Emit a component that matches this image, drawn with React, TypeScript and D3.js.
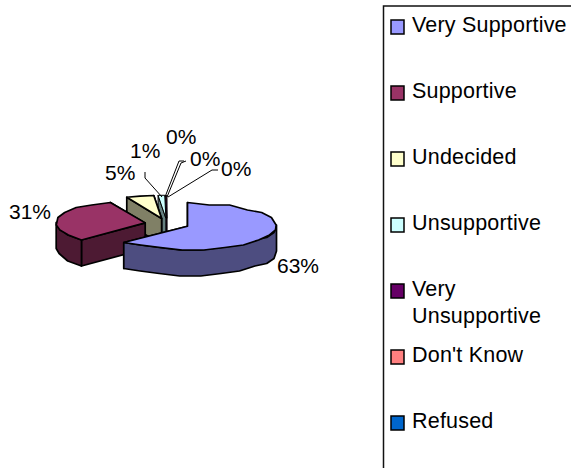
import React from "react";
import * as d3 from "d3";

const categories = ["Very Supportive", "Supportive", "Undecided", "Unsupportive", "Very Unsupportive", "Don't Know", "Refused"];
const values = [62.7, 30.9, 5.0, 1.2, 0.08, 0.06, 0.06];
const topColors = ["#9999FF", "#993366", "#FFFFCC", "#CCFFFF", "#660066", "#FF8080", "#0066CC"];
const sideColors = ["#4D4D80", "#4D1A33", "#808066", "#668080", "#330033", "#804040", "#003366"];
const legendLines = [["Very Supportive"], ["Supportive"], ["Undecided"], ["Unsupportive"], ["Very", "Unsupportive"], ["Don't Know"], ["Refused"]];
const legendSwatchY = [20, 86, 152, 218, 284, 350, 416];
const legendBaseY = [[32], [98], [164], [230], [296, 323], [362], [428]];
const labelPos: [number, number][] = [[277, 273], [9, 219], [105, 180], [130, 158], [166, 144], [190, 166], [221, 176]];
const leaders: ([number, number][] | null)[] = [
  null, null, null,
  [[162, 197], [145, 178], [145, 172]],
  [[165, 197], [179, 161], [184, 161]],
  [[167, 197], [181, 163], [186, 161]],
  [[168, 197], [212, 170], [218, 170]],
];

const W = 571, H = 468;
const cx = 167, cy = 224, rx = 89, ry = 23, depth = 26, explode = 0.25;
const pieGen = d3.pie<number>().sort(null).startAngle(0).endAngle(2 * Math.PI);
const line = d3.line();
const pct = d3.format(".0%");
const total = d3.sum(values);
const snap = (v: number, g: number) => Math.round(v / g) * g;

function arcPts(a0: number, a1: number, c: [number, number], dy = 0): [number, number][] {
  const step = (15 * Math.PI) / 180;
  const n = Math.max(1, Math.ceil((a1 - a0) / step));
  return d3.range(n + 1).map((i) => {
    const a = a0 + ((a1 - a0) * i) / n;
    const y = c[1] - ry * Math.cos(a);
    return [c[0] + rx * Math.sin(a), (n > 2 ? snap(y, 2.5) : y) + dy] as [number, number];
  });
}

const FONT = "'Liberation Sans', Arial, sans-serif";

export default function App() {
  const arcs = pieGen(values);
  const slices = arcs.map((d, i) => {
    const mid = (d.startAngle + d.endAngle) / 2;
    const c: [number, number] = [cx + explode * rx * Math.sin(mid), cy - explode * ry * Math.cos(mid)];
    return { i, a0: d.startAngle, a1: d.endAngle, c };
  });
  const drawOrder = [...slices].reverse();
  return (
    <svg width={W} height={H} style={{ position: "absolute", left: 0, top: 0, background: "#fff" }}>
      <g stroke="#000" strokeLinejoin="round">
        {drawOrder.map((s) => {
          const top = arcPts(s.a0, s.a1, s.c);
          const first = top[0], last = top[top.length - 1];
          const down = (p: [number, number]): [number, number] => [p[0], p[1] + depth];
          const face = (p: [number, number]) => [s.c, p, down(p), down(s.c)] as [number, number][];
          const fa = Math.max(s.a0, Math.PI / 2), fb = Math.min(s.a1, 1.5 * Math.PI);
          const wall = fb > fa ? [...arcPts(fa, fb, s.c), ...arcPts(fa, fb, s.c, depth).reverse()] : null;
          const sw = values[s.i] < 0.5 ? 0.3 : values[s.i] < 2 ? 1 : 1.7;
          return (
            <g key={s.i} strokeWidth={sw}>
              <path d={line(face(last))! + "Z"} fill={sideColors[s.i]} />
              <path d={line(face(first))! + "Z"} fill={sideColors[s.i]} />
              {wall && <path d={line(wall)! + "Z"} fill={sideColors[s.i]} />}
              <path d={line([s.c, ...top])! + "Z"} fill={topColors[s.i]} />
            </g>
          );
        })}
      </g>
      <g fill="none" stroke="#000" strokeWidth={1}>
        {leaders.map((l, i) => l && <path key={i} d={line(l)!} />)}
      </g>
      <g fontFamily={FONT} fontSize={21} fill="#000">
        {values.map((v, i) => (
          <text key={i} x={labelPos[i][0]} y={labelPos[i][1]}>{pct(Math.floor(v) === 0 ? 0 : v / total)}</text>
        ))}
      </g>
      <path d={`M${W + 2},6H383.5V${H + 2}`} fill="none" stroke="#111" strokeWidth={1.5} />
      <g fontFamily={FONT} fontSize={21.5} letterSpacing={0.2} fill="#000">
        {categories.map((c, i) => (
          <g key={c}>
            <rect x={391} y={legendSwatchY[i]} width={13} height={14} fill={topColors[i]} stroke="#000" strokeWidth={1.5} />
            {legendLines[i].map((t, j) => (
              <text key={j} x={412} y={legendBaseY[i][j]}>{t}</text>
            ))}
          </g>
        ))}
      </g>
    </svg>
  );
}
